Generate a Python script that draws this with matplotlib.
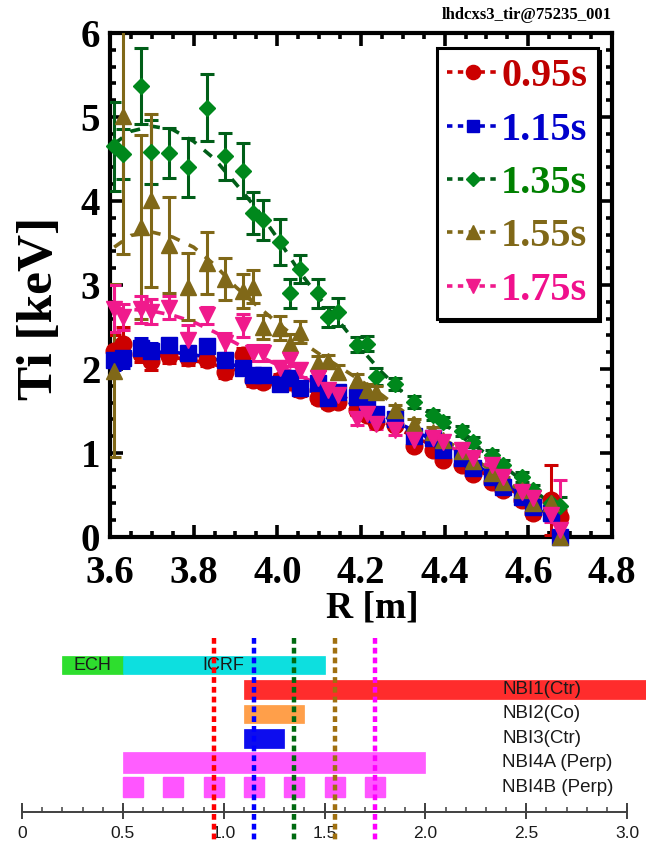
import matplotlib
matplotlib.use("Agg")
import matplotlib.pyplot as plt
import numpy as np
from matplotlib.lines import Line2D

# channel major radius [m]
R = [3.610, 3.632, 3.675, 3.698, 3.742, 3.787, 3.831, 3.876, 3.918, 3.941,
     3.966, 4.007, 4.031, 4.054, 4.098, 4.122, 4.146, 4.190, 4.214, 4.237,
     4.281, 4.327, 4.373, 4.397, 4.441, 4.467, 4.512, 4.539, 4.584, 4.610,
     4.653, 4.676]

# Ti [keV] and errors per time slice
ti_095 = [2.21, 2.30, 2.18, 2.09, 2.15, 2.13, 2.11, 1.97, 2.17, 1.87,
          1.85, 1.87, 1.85, 1.75, 1.65, 1.60, 1.61, 1.51, 1.45, 1.37,
          1.33, 1.08, 1.04, 0.92, 0.86, 0.75, 0.66, 0.56, 0.44, 0.28,
          0.44, 0.24]
err_095 = [0.20, 0.20, 0.10, 0.10, 0.08, 0.08, 0.08, 0.08, 0.08, 0.07,
           0.07, 0.07, 0.07, 0.07, 0.06, 0.06, 0.06, 0.06, 0.06, 0.06,
           0.05, 0.05, 0.05, 0.05, 0.05, 0.05, 0.05, 0.05, 0.05, 0.05,
           0.42, 0.08]

ti_115 = [2.11, 2.13, 2.25, 2.21, 2.28, 2.19, 2.27, 2.11, 2.01, 1.93,
          1.93, 1.82, 1.89, 1.77, 1.83, 1.65, 1.73, 1.67, 1.59, 1.47,
          1.41, 1.20, 1.18, 1.03, 0.94, 0.82, 0.72, 0.60, 0.48, 0.36,
          0.29, 0.00]
err_115 = [0.12, 0.12, 0.12, 0.10, 0.08, 0.08, 0.08, 0.08, 0.07, 0.07,
           0.07, 0.06, 0.06, 0.06, 0.06, 0.06, 0.06, 0.05, 0.05, 0.05,
           0.05, 0.05, 0.05, 0.05, 0.05, 0.05, 0.05, 0.05, 0.05, 0.05,
           0.06, 0.06]

ti_135 = [4.65, 4.56, 5.37, 4.58, 4.57, 4.40, 5.11, 4.53, 4.36, 3.86,
          3.77, 3.51, 2.90, 3.19, 2.90, 2.62, 2.68, 2.29, 2.30, 1.91,
          1.82, 1.61, 1.45, 1.37, 1.26, 1.13, 0.98, 0.86, 0.71, 0.56,
          0.40, 0.37]
err_135 = [0.53, 0.30, 0.45, 0.38, 0.30, 0.35, 0.40, 0.28, 0.33, 0.25,
           0.24, 0.27, 0.17, 0.17, 0.17, 0.12, 0.17, 0.09, 0.09, 0.10,
           0.07, 0.07, 0.06, 0.06, 0.06, 0.06, 0.06, 0.06, 0.06, 0.06,
           0.06, 0.11]

ti_155 = [1.98, 5.01, 3.69, 4.01, 3.48, 2.98, 3.26, 3.07, 2.93, 2.98,
          2.50, 2.49, 2.30, 2.44, 2.07, 2.09, 1.97, 1.87, 1.75, 1.73,
          1.51, 1.35, 1.25, 1.15, 1.02, 0.90, 0.76, 0.66, 0.56, 0.40,
          0.40, 0.00]
err_155 = [1.03, 1.64, 1.10, 1.03, 0.57, 0.40, 0.37, 0.25, 0.20, 0.20,
           0.14, 0.14, 0.12, 0.13, 0.08, 0.08, 0.08, 0.07, 0.07, 0.07,
           0.06, 0.06, 0.06, 0.06, 0.06, 0.06, 0.06, 0.06, 0.06, 0.06,
           0.06, 0.06]

ti_175 = [2.72, 2.62, 2.71, 2.68, 2.73, 2.35, 2.64, 2.31, 2.52, 2.19,
          2.19, 2.01, 2.11, 1.99, 1.89, 1.75, 1.69, 1.41, 1.47, 1.35,
          1.27, 1.15, 1.18, 1.13, 1.04, 0.94, 0.86, 0.72, 0.54, 0.46,
          0.26, 0.08]
err_175 = [0.28, 0.15, 0.16, 0.15, 0.14, 0.17, 0.10, 0.12, 0.14, 0.10,
           0.10, 0.08, 0.08, 0.08, 0.07, 0.07, 0.07, 0.08, 0.07, 0.07,
           0.06, 0.06, 0.06, 0.06, 0.06, 0.06, 0.06, 0.06, 0.06, 0.06,
           0.08, 0.60]

# dashed fit curves
fit_R = [3.61, 3.65, 3.70, 3.75, 3.80, 3.85, 3.90, 3.95, 4.00, 4.05, 4.10,
         4.15, 4.20, 4.25, 4.30, 4.35, 4.40, 4.45, 4.50, 4.55, 4.60, 4.65, 4.68]
fit_095 = [2.22, 2.20, 2.17, 2.14, 2.10, 2.05, 1.99, 1.92, 1.84, 1.76, 1.68,
           1.59, 1.49, 1.38, 1.26, 1.14, 1.01, 0.88, 0.74, 0.59, 0.43, 0.27, 0.17]
fit_115 = [2.12, 2.17, 2.20, 2.20, 2.17, 2.12, 2.04, 1.95, 1.86, 1.78, 1.71,
           1.64, 1.55, 1.45, 1.33, 1.21, 1.07, 0.93, 0.78, 0.62, 0.45, 0.25, 0.12]
fit_135 = [4.68, 4.83, 4.89, 4.85, 4.71, 4.50, 4.21, 3.91, 3.56, 3.18, 2.85,
           2.55, 2.24, 1.96, 1.72, 1.52, 1.34, 1.16, 0.99, 0.81, 0.61, 0.41, 0.28]
fit_155 = [3.45, 3.59, 3.63, 3.57, 3.45, 3.24, 2.98, 2.76, 2.55, 2.35, 2.18,
           2.02, 1.86, 1.69, 1.50, 1.32, 1.16, 1.00, 0.83, 0.66, 0.48, 0.30, 0.20]
fit_175 = [2.72, 2.71, 2.69, 2.64, 2.56, 2.44, 2.31, 2.17, 2.05, 1.93, 1.81,
           1.69, 1.56, 1.43, 1.30, 1.20, 1.10, 0.99, 0.86, 0.70, 0.52, 0.32, 0.20]

labels = ["0.95s", "1.15s", "1.35s", "1.55s", "1.75s"]
slice_t = [0.95, 1.15, 1.35, 1.55, 1.75]

# heating timeline
heat_names = ["ECH", "ICRF", "NBI1(Ctr)", "NBI2(Co)", "NBI3(Ctr)", "NBI4A (Perp)"]
heat_start = [0.2, 0.5, 1.1, 1.1, 1.1, 0.5]
heat_end = [0.5, 1.5, 3.2, 1.4, 1.3, 2.0]
heat_row = [0, 0, 1, 2, 3, 4]
nbi4b_start = [0.5, 0.7, 0.9, 1.1, 1.3, 1.5, 1.7]
nbi4b_len = 0.1
time_ticks = [0, 0.5, 1.0, 1.5, 2.0, 2.5, 3.0]
time_ticklabels = ["0", "0.5", "1.0", "1.5", "2.0", "2.5", "3.0"]

SERIF = "Liberation Serif"
SANS = "Liberation Sans"

styles = [
    # marker, face, errbar/line, text colour, size
    ("o", "#cc0000", "#cc0000", "#c00000", 12),
    ("s", "#0000cc", "#0000cc", "#0000cc", 11),
    ("D", "#00881c", "#005e18", "#008000", 8.5),
    ("^", "#806818", "#806818", "#806818", 12),
    ("v", "#f01a8c", "#f01a8c", "#f0108c", 12),
]
values = [ti_095, ti_115, ti_135, ti_155, ti_175]
errors = [err_095, err_115, err_135, err_155, err_175]
fits = [fit_095, fit_115, fit_135, fit_155, fit_175]

fig = plt.figure(figsize=(6.46, 8.43), dpi=100)
ax = fig.add_axes([110 / 646, 1 - 537 / 843, 502 / 646, 504 / 843])

for (mk, fc, lc, tc, ms), v, e, f in zip(styles, values, errors, fits):
    ax.plot(fit_R, f, color=lc, lw=2.6, ls=(0, (2.8, 2.8)), zorder=2)
    eb = ax.errorbar(R, v, yerr=e, fmt=mk, color=fc, mfc=fc, mec=fc, ms=ms,
                     ecolor=lc, elinewidth=2.2, capsize=5, capthick=2.2,
                     zorder=3)
    eb[0].set_clip_on(False)

ax.set_xlim(3.6, 4.8)
ax.set_ylim(0, 6)
ax.set_xticks(np.arange(3.6, 4.81, 0.2))
ax.set_xticklabels([f"{t:.1f}" for t in np.arange(3.6, 4.81, 0.2)])
ax.set_xticks(np.arange(3.6, 4.81, 0.05), minor=True)
ax.set_yticks(range(0, 7))
ax.set_yticks(np.arange(0, 6.01, 0.2), minor=True)
for s in ax.spines.values():
    s.set_linewidth(3)
ax.tick_params(which="both", direction="in", top=True, right=True, width=2.6)
ax.tick_params(which="major", length=9, pad=7)
ax.tick_params(axis="x", which="major", pad=13)
ax.tick_params(which="minor", length=4.5)
for lab in ax.get_xticklabels() + ax.get_yticklabels():
    lab.set_fontfamily(SERIF)
    lab.set_fontweight("bold")
    lab.set_fontsize(28)

ax.set_ylabel("Ti [keV]", fontfamily=SERIF, fontweight="bold", fontsize=37,
              ha="center", va="center")
ax.yaxis.set_label_coords(-0.139, 0.454)
ax.set_xlabel("R [m]", fontfamily=SERIF, fontweight="bold", fontsize=27,
              ha="center", va="center")
ax.xaxis.set_label_coords(0.522, -0.141)

fig.text(612 / 646, 1 - 15 / 843, "lhdcxs3_tir@75235_001", ha="right",
         va="center", fontfamily=SERIF, fontweight="bold", fontsize=12)

handles = [Line2D([], [], color=lc, lw=2.6, ls=(0, (1.5, 1.5)), marker=mk,
                  mfc=fc, mec=fc, ms=ms * 0.85)
           for (mk, fc, lc, tc, ms) in styles]
leg = ax.legend(handles, labels, loc="upper left", bbox_to_anchor=(0.651, 0.970),
                borderaxespad=0, frameon=True, fancybox=False,
                shadow={"color": "black", "alpha": 1},
                prop={"family": SERIF, "weight": "bold", "size": 29},
                labelcolor=[s[3] for s in styles], handlelength=1.3,
                handletextpad=0.05, labelspacing=0.4, borderpad=0.25)
leg.get_frame().set_edgecolor("black")
leg.get_frame().set_linewidth(2.2)
leg.set_zorder(10)

# --- heating timeline ---
ax2 = fig.add_axes([0, 0, 1, 213 / 843])
ax2.set_xlim(-22 / 201.7, 624 / 201.7)
ax2.set_ylim(7.27, -1.43)
ax2.set_axis_off()

bar_colors = ["#22dd22", "#00dede", "#ff2020", "#ff9a40", "#0000ee", "#ff55ff"]
bar_heights = [0.72, 0.72, 0.75, 0.75, 0.78, 0.86]
for name, t0, t1, row, c, h in zip(heat_names, heat_start, heat_end,
                                   heat_row, bar_colors, bar_heights):
    ax2.barh(row, t1 - t0, left=t0, height=h, color=c, edgecolor=c,
             linewidth=0.5, alpha=0.95)
ax2.barh([5] * len(nbi4b_start), [nbi4b_len] * len(nbi4b_start),
         left=nbi4b_start, height=0.82, color="#ff55ff", edgecolor="#ff55ff")

ax2.text((heat_start[0] + heat_end[0]) / 2, heat_row[0], heat_names[0],
         ha="center", va="center", fontfamily=SANS, fontsize=13, color="#1a1a1a")
ax2.text((heat_start[1] + heat_end[1]) / 2, heat_row[1], heat_names[1],
         ha="center", va="center", fontfamily=SANS, fontsize=13, color="#1a1a1a")
for name, row in zip(heat_names[2:] + ["NBI4B (Perp)"], [1, 2, 3, 4, 5]):
    ax2.text(2.38, row, name, ha="left", va="center", fontfamily=SANS,
             fontsize=13.5, color="#1a1a1a")

# time axis
ax2.hlines(6, 0, 3.0, color="#404040", lw=1.4)
ax2.vlines(np.arange(0, 3.01, 0.1), 5.8, 6.0, color="#404040", lw=1.1)
ax2.vlines(time_ticks, 5.63, 6.3, color="#404040", lw=1.4)
for t, lab in zip(time_ticks, time_ticklabels):
    ax2.text(t, 6.9, lab, ha="center", va="center", fontfamily=SANS,
             fontsize=12.5, color="#1a1a1a")

line_colors = ["#ff0000", "#0000ff", "#006a10", "#a07010", "#ff00ff"]
for t, c in zip(slice_t, line_colors):
    ax2.vlines(t, -1.1, 7.3, color=c, lw=3.2, ls=(0, (1.3, 0.9)), zorder=5)

fig.savefig("out.png", dpi=100)
